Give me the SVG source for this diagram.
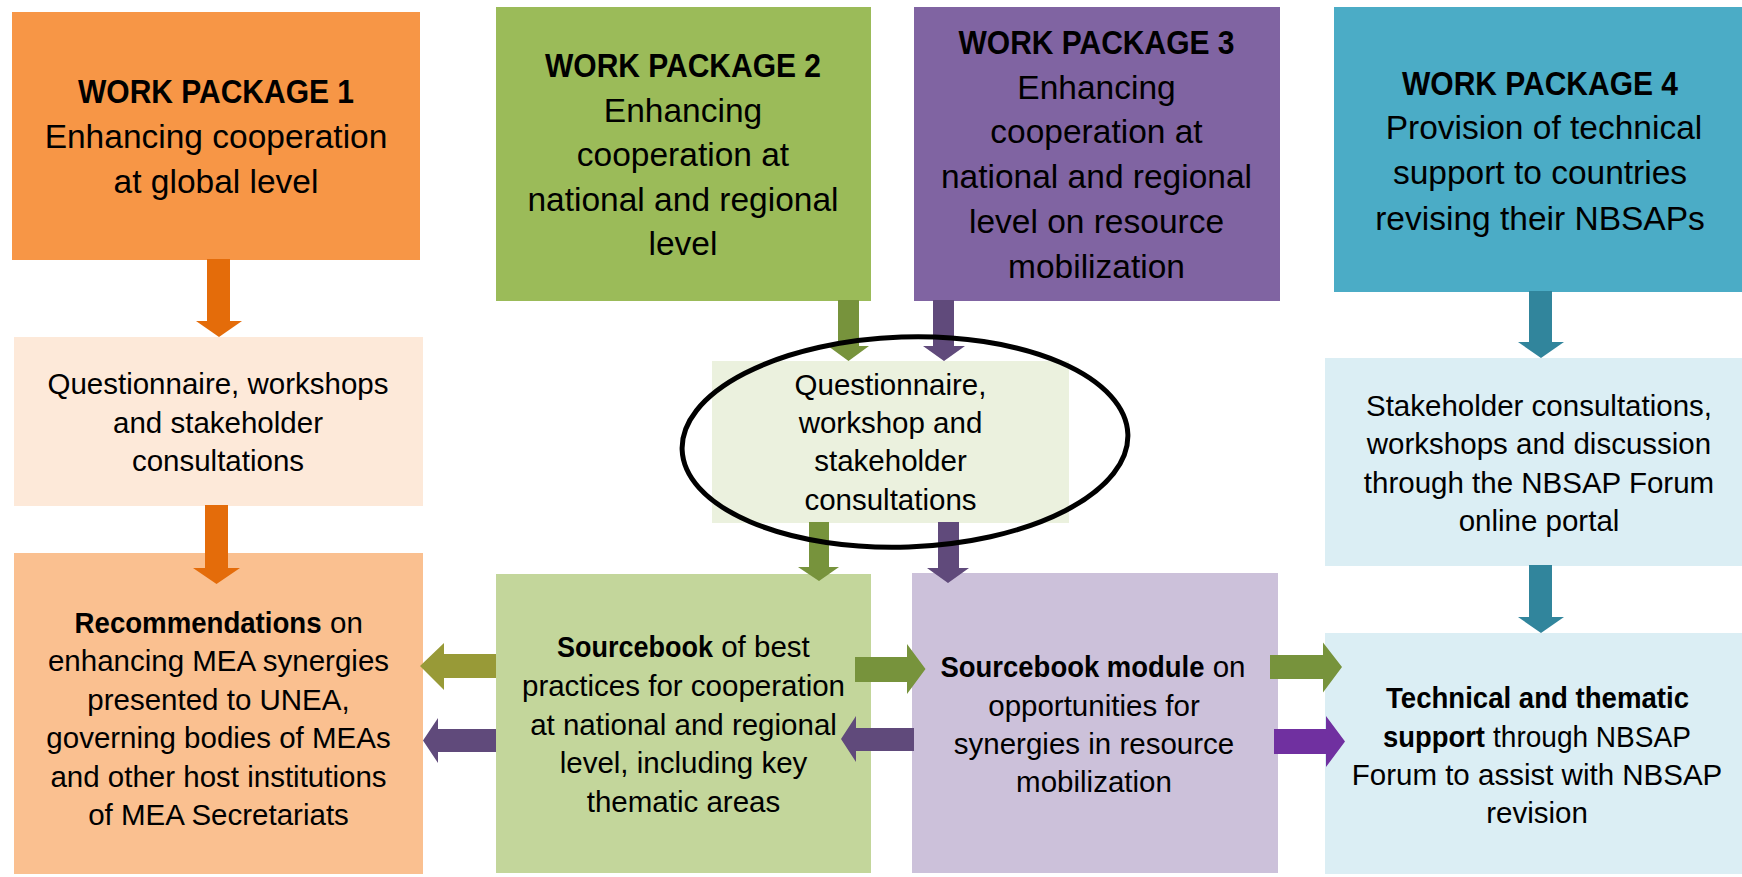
<svg xmlns="http://www.w3.org/2000/svg" width="1742" height="877" viewBox="0 0 1742 877">
<style>
text{font-family:"Liberation Sans",Arial,sans-serif;fill:#000}
.L{font-size:33.5px;text-anchor:middle}
.S{font-size:29.5px;text-anchor:middle}
.Ss{font-size:29.5px;text-anchor:start}
.b{font-weight:bold}
.ao{fill:#E46C0A}
.ag{fill:#77933C}
.ap{fill:#604A7B}
.at{fill:#31859C}
.ol{fill:#989A37}
.pv{fill:#7030A0}
</style>
<rect width="1742" height="877" fill="#fff"/>

<g id="wp1">
<rect x="12" y="12" width="408" height="248" fill="#F79646"/>
<text class="L b" x="216" y="103.3" textLength="276" lengthAdjust="spacingAndGlyphs">WORK PACKAGE 1</text>
<text class="L" x="216" y="147.7">Enhancing cooperation</text>
<text class="L" x="216" y="192.7">at global level</text>
</g>

<g id="wp2">
<rect x="496" y="7" width="375" height="294" fill="#9BBB59"/>
<text class="L b" x="683" y="76.7" textLength="276" lengthAdjust="spacingAndGlyphs">WORK PACKAGE 2</text>
<text class="L" x="683" y="121.7">Enhancing</text>
<text class="L" x="683" y="165.7">cooperation at</text>
<text class="L" x="683" y="211">national and regional</text>
<text class="L" x="683" y="255.3">level</text>
</g>

<g id="wp3">
<rect x="914" y="7" width="366" height="294" fill="#8064A2"/>
<text class="L b" x="1096.5" y="54.3" textLength="276" lengthAdjust="spacingAndGlyphs">WORK PACKAGE 3</text>
<text class="L" x="1096.5" y="99">Enhancing</text>
<text class="L" x="1096.5" y="143.3">cooperation at</text>
<text class="L" x="1096.5" y="188.3">national and regional</text>
<text class="L" x="1096.5" y="233.3">level on resource</text>
<text class="L" x="1096.5" y="277.7">mobilization</text>
</g>

<g id="wp4">
<rect x="1334" y="7" width="408" height="285" fill="#4BACC6"/>
<text class="L b" x="1540" y="95" textLength="276" lengthAdjust="spacingAndGlyphs">WORK PACKAGE 4</text>
<text class="L" x="1544" y="139">Provision of technical</text>
<text class="L" x="1540" y="184.3">support to countries</text>
<text class="L" x="1540" y="230">revising their NBSAPs</text>
</g>

<g id="consult1">
<rect x="14" y="337" width="409" height="169" fill="#FDE9D9"/>
<text class="S" x="218" y="394">Questionnaire, workshops</text>
<text class="S" x="218" y="432.5">and stakeholder</text>
<text class="S" x="218" y="471">consultations</text>
</g>

<g id="consult23">
<rect x="712" y="361" width="357" height="162" fill="#EBF1DE"/>
<text class="S" x="890.5" y="395">Questionnaire,</text>
<text class="S" x="890.5" y="433">workshop and</text>
<text class="S" x="890.5" y="471">stakeholder</text>
<text class="S" x="890.5" y="509.5">consultations</text>
</g>

<g id="consult4">
<rect x="1325" y="358" width="417" height="208" fill="#DBEEF4"/>
<text class="S" x="1539" y="416">Stakeholder consultations,</text>
<text class="S" x="1539" y="454.2">workshops and discussion</text>
<text class="S" x="1539" y="492.5">through the NBSAP Forum</text>
<text class="S" x="1539" y="531">online portal</text>
</g>

<g id="recommendations">
<rect x="14" y="553" width="409" height="321" fill="#FAC090"/>
<text class="Ss b" transform="translate(74.6 632.5) scale(0.936 1)">Recommendations</text>
<text class="Ss" x="330" y="632.5">on</text>
<text class="S" x="218.5" y="671">enhancing MEA synergies</text>
<text class="S" x="218.5" y="709.5">presented to UNEA,</text>
<text class="S" x="218.5" y="748">governing bodies of MEAs</text>
<text class="S" x="218.5" y="786.5">and other host institutions</text>
<text class="S" x="218.5" y="824.5">of MEA Secretariats</text>
</g>

<g id="sourcebook">
<rect x="496" y="574" width="375" height="299" fill="#C3D69B"/>
<text class="Ss b" transform="translate(557 657) scale(0.915 1)">Sourcebook</text>
<text class="Ss" x="721.2" y="657">of best</text>
<text class="S" x="683.5" y="696">practices for cooperation</text>
<text class="S" x="683.5" y="735">at national and regional</text>
<text class="S" x="683.5" y="773">level, including key</text>
<text class="S" x="683.5" y="812">thematic areas</text>
</g>

<g id="module">
<rect x="912" y="573" width="366" height="300" fill="#CCC1DA"/>
<text class="Ss b" transform="translate(940.5 677) scale(0.931 1)">Sourcebook module</text>
<text class="Ss" x="1212.7" y="677">on</text>
<text class="S" x="1094" y="715.5">opportunities for</text>
<text class="S" x="1094" y="753.5">synergies in resource</text>
<text class="S" x="1094" y="792">mobilization</text>
</g>

<g id="support">
<rect x="1325" y="633" width="417" height="241" fill="#DBEEF4"/>
<text class="S b" x="1537.5" y="708" textLength="303" lengthAdjust="spacingAndGlyphs">Technical and thematic</text>
<text class="Ss b" transform="translate(1383 746.5) scale(0.929 1)">support</text>
<text class="Ss" transform="translate(1493 746.5) scale(0.951 1)">through NBSAP</text>
<text class="S" x="1537" y="785">Forum to assist with NBSAP</text>
<text class="S" x="1537" y="823">revision</text>
</g>

<g id="connectors">
<polygon class="ao" points="207,259 230,259 230,321 242,321 219,337 196,321 207,321"/>
<polygon class="ao" points="205,505 228,505 228,568 240,568 216.5,584 193,568 205,568"/>
<polygon class="ag" points="838,300 859,300 859,346 869,346 848.5,361 828,346 838,346"/>
<polygon class="ap" points="933,300 954,300 954,346 965,346 944,361 923,346 933,346"/>
<polygon class="ag" points="809,522 829,522 829,567 839,567 819,581 798,567 809,567"/>
<polygon class="ap" points="938,522 959,522 959,568 969,568 948,583 927,568 938,568"/>
<polygon class="at" points="1529,291 1552,291 1552,342 1564,342 1541,358 1518,342 1529,342"/>
<polygon class="at" points="1529,565 1552,565 1552,617 1564,617 1541,633 1518,617 1529,617"/>
<polygon class="ol" points="496,654 444,654 444,643 420,666 444,690 444,678 496,678"/>
<polygon class="ap" points="496,729 438,729 438,718 423,740.5 438,763 438,752 496,752"/>
<polygon class="ag" points="855,657 907,657 907,644 925.5,669 907,694 907,682 855,682"/>
<polygon class="ap" points="914,728 856,728 856,716 841,739 856,762 856,751 914,751"/>
<polygon class="ag" points="1270,655 1323,655 1323,642.5 1342,667 1323,692.5 1323,679 1270,679"/>
<polygon class="pv" points="1274,729 1326,729 1326,716 1345,741.5 1326,767 1326,754 1274,754"/>
</g>

<g id="highlight">
<ellipse cx="905" cy="442" rx="223" ry="105" transform="rotate(-2 905 442)" fill="none" stroke="#000" stroke-width="5"/>
</g>
</svg>
